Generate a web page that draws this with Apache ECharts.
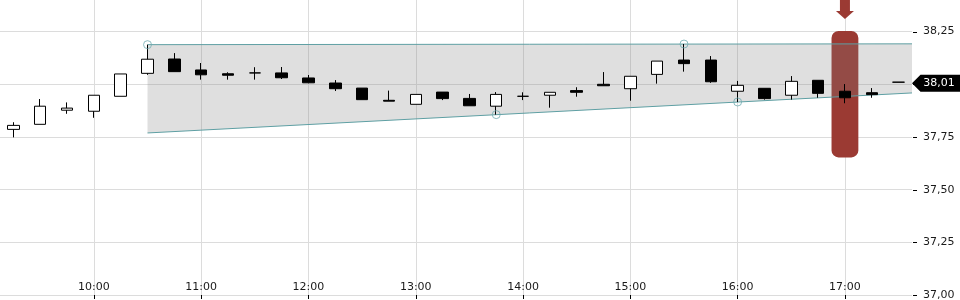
<!DOCTYPE html>
<html><head><meta charset="utf-8">
<script src="https://cdn.jsdelivr.net/npm/echarts@6/dist/echarts.min.js"></script>
<style>html,body{margin:0;padding:0;background:#fff}#c{width:960px;height:300px}</style>
</head><body><div id="c"></div>
<script>
// ---- data ----
const times = ['09:15','09:30','09:45','10:00','10:15','10:30','10:45','11:00','11:15','11:30','11:45','12:00','12:15','12:30','12:45','13:00','13:15','13:30','13:45','14:00','14:15','14:30','14:45','15:00','15:15','15:30','15:45','16:00','16:15','16:30','16:45','17:00','17:15','17:30'];
const opens  = [37.786,37.810,37.877,37.872,37.943,38.052,38.120,38.068,38.050,38.054,38.054,38.030,38.006,37.982,37.924,37.905,37.963,37.933,37.896,37.943,37.948,37.970,38.000,37.979,38.047,38.115,38.115,37.967,37.981,37.948,38.019,37.967,37.960,38.010];
const closes = [37.805,37.896,37.887,37.948,38.049,38.119,38.060,38.045,38.043,38.054,38.031,38.007,37.979,37.927,37.920,37.952,37.932,37.898,37.952,37.943,37.962,37.962,37.993,38.038,38.110,38.098,38.012,37.995,37.932,38.014,37.957,37.936,37.951,38.010];
const lows   = [37.748,37.810,37.860,37.841,37.943,38.045,38.060,38.022,38.022,38.022,38.025,38.005,37.968,37.927,37.920,37.905,37.925,37.898,37.856,37.925,37.889,37.941,37.993,37.922,38.003,38.060,38.007,37.916,37.927,37.927,37.936,37.910,37.936,38.010];
const highs  = [37.820,37.930,37.914,37.948,38.049,38.188,38.148,38.101,38.057,38.081,38.082,38.044,38.020,37.982,37.970,37.952,37.963,37.954,37.963,37.962,37.962,37.986,38.058,38.038,38.110,38.191,38.134,38.016,37.981,38.039,38.019,38.001,37.982,38.010];
const hourLabels = ['10:00','11:00','12:00','13:00','14:00','15:00','16:00','17:00'];
const priceTicks = [37.00, 37.25, 37.50, 37.75, 38.00, 38.25];
const channelTimes = ['10:30', '17:37:30'];
const channelUpper = [38.188, 38.192];
const channelLower = [37.769, 37.959];
const pivotTimes  = ['10:30', '15:30', '13:45', '16:00'];
const pivotValues = [38.188, 38.191, 37.856, 37.916];
const highlightTime = '17:00';
const lastPrice = 38.01;
const axisRange = ['09:07:30', '17:37:30'];
const priceRange = [37.00, 38.40];

// ---- helpers ----
function toMin(t){ const p = t.split(':').map(Number); return p[0]*60 + p[1] + (p[2]||0)/60; }
function fmtTime(v){ const h = Math.floor(v/60), m = Math.round(v%60); return (h<10?'0':'')+h+':'+(m<10?'0':'')+m; }
function fmtPrice(v){ return v.toFixed(2).replace('.', ','); }

const xMin = toMin(axisRange[0]), xMax = toMin(axisRange[1]);
const candleData = times.map((t,i)=>[toMin(t), opens[i], closes[i], lows[i], highs[i]]);
const hourTicks = hourLabels.map(toMin);
const hx = toMin(highlightTime);

const chart = echarts.init(document.getElementById('c'), null, {renderer:'canvas'});
const FONT = 'DejaVu Sans';
chart.setOption({
  animation: false,
  grid: { left: 0, right: 48, top: 0, bottom: 5, outerBoundsMode: 'none', containLabel: false },
  xAxis: {
    type: 'value', min: xMin, max: xMax,
    axisLine: { show: true, lineStyle: { color: 'rgba(0,0,0,0)', width: 0 } },
    axisTick: { show: true, customValues: hourTicks, inside: false, length: 4, lineStyle: { color: '#000', width: 1 } },
    axisLabel: { customValues: hourTicks, inside: true, margin: 2, formatter: fmtTime, fontFamily: FONT, fontSize: 11, color: '#1a1a1a' },
    splitLine: { show: true, lineStyle: { color: '#dcdcdc', width: 1 } }
  },
  yAxis: {
    type: 'value', position: 'right', min: priceRange[0], max: priceRange[1],
    axisLine: { show: false },
    axisTick: { show: false, customValues: priceTicks },
    axisLabel: { customValues: priceTicks, margin: 11, formatter: fmtPrice, fontFamily: FONT, fontSize: 11, color: '#1a1a1a' },
    splitLine: { show: true, lineStyle: { color: '#dcdcdc', width: 1 } }
  },
  series: [
    {
      type: 'custom', silent: true,
      data: [[hx, priceRange[1]]],
      renderItem: function(params, api){
        const top = api.coord([hx, 38.253]);
        const bot = api.coord([hx, 37.653]);
        const w = api.size([15, 0])[0];
        const cx = top[0];
        const y0 = api.coord([hx, priceRange[1]])[1];
        return { type: 'group', children: [
          { type: 'rect', shape: { x: cx - w/2, y: top[1], width: w, height: bot[1]-top[1], r: 7 }, style: { fill: '#9b3a33' } },
          { type: 'polygon', shape: { points: [[cx-5,y0],[cx+5,y0],[cx+5,y0+11],[cx+9,y0+11],[cx,y0+19],[cx-9,y0+11],[cx-5,y0+11]] }, style: { fill: '#9b3a33' } }
        ]};
      }
    },
    {
      type: 'custom', silent: true,
      data: [[toMin(channelTimes[0]), channelUpper[0]]],
      renderItem: function(params, api){
        const a = api.coord([toMin(channelTimes[0]), channelUpper[0]]);
        const b = api.coord([toMin(channelTimes[1]), channelUpper[1]]);
        const c = api.coord([toMin(channelTimes[1]), channelLower[1]]);
        const d = api.coord([toMin(channelTimes[0]), channelLower[0]]);
        return { type: 'group', children: [
          { type: 'polygon', shape: { points: [a,b,c,d] }, style: { fill: 'rgba(128,128,128,0.25)' } },
          { type: 'line', shape: { x1:a[0], y1:a[1], x2:b[0], y2:b[1] }, style: { stroke: '#5e9fa3', lineWidth: 1 } },
          { type: 'line', shape: { x1:d[0], y1:d[1], x2:c[0], y2:c[1] }, style: { stroke: '#5e9fa3', lineWidth: 1 } }
        ]};
      }
    },
    {
      type: 'custom', silent: true, clip: false,
      data: priceTicks.map(v => [xMax, v]),
      renderItem: function(params, api){
        const p = api.coord([api.value(0), api.value(1)]);
        const y = Math.round(p[1]) + 0.5;
        return { type: 'line', shape: { x1: p[0] + 1, y1: y, x2: p[0] + 5, y2: y }, style: { stroke: '#000', lineWidth: 1 } };
      }
    },
    {
      type: 'candlestick',
      data: candleData,
      encode: { x: 0, y: [1,2,3,4] },
      barWidth: 12,
      itemStyle: { color: '#fff', color0: '#000', borderColor: '#000', borderColor0: '#000', borderColorDoji: '#000', borderWidth: 1 },
      markPoint: {
        silent: true,
        symbol: 'path://M0,8.5L8.5,0H48V17H8.5Z',
        symbolSize: [48, 17],
        symbolKeepAspect: false,
        symbolOffset: [24, 1],
        itemStyle: { color: '#000' },
        label: { show: true, position: 'inside', offset: [3, 0], color: '#fff', fontFamily: FONT, fontSize: 11, formatter: fmtPrice(lastPrice) },
        data: [{ coord: [xMax, lastPrice] }]
      }
    },
    {
      type: 'scatter', silent: true,
      data: pivotTimes.map((t,i)=>[toMin(t), pivotValues[i]]),
      symbol: 'circle', symbolSize: 8,
      itemStyle: { color: 'rgba(0,0,0,0)', borderColor: '#72adb1', borderWidth: 1 }
    }
  ]
});
</script>
</body></html>
